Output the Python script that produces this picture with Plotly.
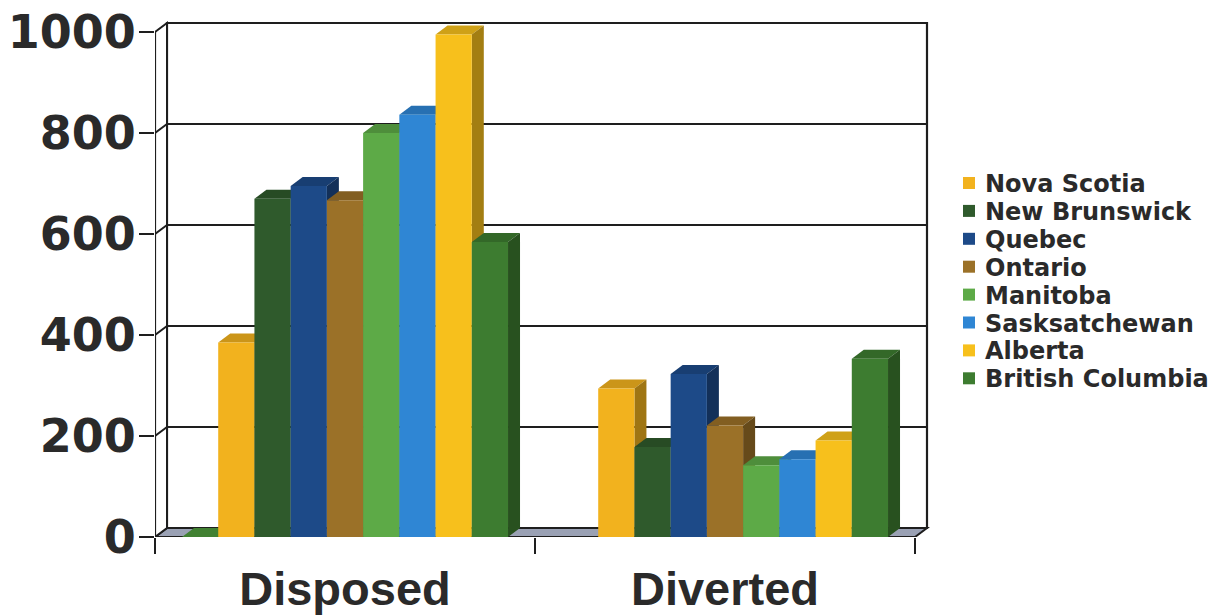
import plotly.graph_objects as go

# ---- data -------------------------------------------------------------
categories = ["Disposed", "Diverted"]
provinces = ["Nova Scotia", "New Brunswick", "Quebec", "Ontario", "Manitoba",
             "Sasksatchewan", "Alberta", "British Columbia"]
disposed = [385, 670, 695, 667, 800, 836, 995, 584]
diverted = [294, 178, 323, 221, 142, 154, 191, 353]
# leading empty slot of each cluster (flat in Disposed, absent in Diverted)
lead_slot = [0, None]

front_colors = ["#F2B21E", "#2F5A2C", "#1D4A88", "#9B7128",
                "#5DAA47", "#2F86D4", "#F7C01C", "#3D7C30"]
lead_color = "#4E9A3C"
y_ticks = [0, 200, 400, 600, 800, 1000]

# ---- geometry ---------------------------------------------------------
W, H = 1225, 616
M_L, M_R, M_T, M_B = 155, 285, 20, 79
PLOT_W = W - M_L - M_R
PLOT_H = H - M_T - M_B
PX_PER_CAT = 380
VAL_TOP_PX = 32
PX_PER_VAL = (H - M_B - VAL_TOP_PX) / 1000.0
X_RANGE = [-0.5, -0.5 + PLOT_W / PX_PER_CAT]
Y_RANGE = [0, PLOT_H / PX_PER_VAL]
DX = 12 / PX_PER_CAT          # depth offset, category units
DY = 9 / PX_PER_VAL           # depth offset, value units
GROUP_W = 0.858
N_SLOTS = 9
SLOT_W = GROUP_W / N_SLOTS

INK = "#1E1E1E"
TEXT = "#2A2A2A"
FLOOR = "#9AA1B4"


def shade(hex_color, f):
    h = hex_color.lstrip("#")
    r, g, b = (int(h[i:i + 2], 16) for i in (0, 2, 4))
    return "#%02X%02X%02X" % (int(r * f), int(g * f), int(b * f))


def px_x(px):
    return (px - M_L) / PLOT_W


def px_y(py):
    return (H - M_B - py) / PLOT_H


series = [("", lead_slot, lead_color)]
for name, a, b, c in zip(provinces, disposed, diverted, front_colors):
    series.append((name, [a, b], c))

fig = go.Figure()
shapes = []

# back wall, floor, left wall
x0, x1 = -0.5, 1.5
shapes.append(dict(type="rect", layer="below", xref="x", yref="y",
                   x0=x0 + DX, x1=x1 + DX, y0=DY, y1=1000 + DY,
                   fillcolor="white", line=dict(color=INK, width=2.2)))
shapes.append(dict(type="path", layer="below", xref="x", yref="y",
                   path=f"M{x0},0 L{x1},0 L{x1 + DX},{DY} L{x0 + DX},{DY} Z",
                   fillcolor=FLOOR, line=dict(color=INK, width=2)))
shapes.append(dict(type="path", layer="below", xref="x", yref="y",
                   path=f"M{x0},0 L{x0},1000 L{x0 + DX},{1000 + DY} L{x0 + DX},{DY} Z",
                   fillcolor="white", line=dict(color=INK, width=2)))
# gridlines on left and back walls
for v in y_ticks[1:-1]:
    shapes.append(dict(type="line", layer="below", xref="x", yref="y",
                       x0=x0, y0=v, x1=x0 + DX, y1=v + DY,
                       line=dict(color=INK, width=2)))
    shapes.append(dict(type="line", layer="below", xref="x", yref="y",
                       x0=x0 + DX, y0=v + DY, x1=x1 + DX, y1=v + DY,
                       line=dict(color=INK, width=2)))

# bars: front faces as traces, top and side faces as shapes behind them
for ci, cat in enumerate(categories):
    for k, (name, vals, color) in enumerate(series):
        v = vals[ci]
        if v is None:
            continue
        xl = ci - GROUP_W / 2 + k * SLOT_W
        xr = xl + SLOT_W
        shapes.append(dict(type="path", layer="below", xref="x", yref="y",
                           path=f"M{xl},{v} L{xr},{v} L{xr + DX},{v + DY} L{xl + DX},{v + DY} Z",
                           fillcolor=shade(color, 0.84), line=dict(width=0)))
        if v > 0:
            shapes.append(dict(type="path", layer="below", xref="x", yref="y",
                               path=f"M{xr},0 L{xr},{v} L{xr + DX},{v + DY} L{xr + DX},{DY} Z",
                               fillcolor=shade(color, 0.66), line=dict(width=0)))

for k, (name, vals, color) in enumerate(series):
    fig.add_trace(go.Bar(
        x=categories, y=vals, name=name, width=SLOT_W,
        offset=-GROUP_W / 2 + k * SLOT_W,
        marker=dict(color=color, line=dict(width=0)),
        showlegend=False,
    ))

# front value axis line
shapes.append(dict(type="line", layer="above", xref="x", yref="y",
                   x0=x0, y0=0, x1=x0, y1=1000, line=dict(color=INK, width=2.2)))

# legend: colour keys and labels
annotations = []
LEG_TOP, LEG_STEP = 183, 27.9
for i, (name, color) in enumerate(zip(provinces, front_colors)):
    cy = LEG_TOP + i * LEG_STEP
    shapes.append(dict(type="rect", xref="paper", yref="paper",
                       x0=px_x(963), x1=px_x(975), y0=px_y(cy + 6), y1=px_y(cy - 6),
                       fillcolor=color, line=dict(width=0)))
    annotations.append(dict(xref="paper", yref="paper", x=px_x(983), y=px_y(cy + 1),
                            xanchor="left", yanchor="middle", showarrow=False,
                            text=name,
                            font=dict(family="DejaVu Sans", size=24, color=TEXT,
                                      weight="bold")))

fig.update_layout(
    width=W, height=H,
    margin=dict(l=M_L, r=M_R, t=M_T, b=M_B, autoexpand=False),
    paper_bgcolor="white", plot_bgcolor="white",
    barmode="overlay",
    shapes=shapes, annotations=annotations,
    xaxis=dict(type="category", range=X_RANGE, tickson="boundaries",
               automargin=False,
               ticks="outside", ticklen=16, tickwidth=1.5, tickcolor=INK,
               showgrid=False, showline=False, zeroline=False,
               ticklabelstandoff=20,
               tickfont=dict(family="Liberation Sans", size=47, color=TEXT,
                             weight="bold")),
    yaxis=dict(range=Y_RANGE, tickvals=y_ticks, ticks="outside", ticklen=15,
               automargin=False, ticklabelstandoff=-6,
               tickwidth=1.5, tickcolor=INK, showgrid=False, showline=False,
               zeroline=False,
               tickfont=dict(family="DejaVu Sans", size=46, color=TEXT,
                             weight="bold")),
)

fig.write_html("out.html")
